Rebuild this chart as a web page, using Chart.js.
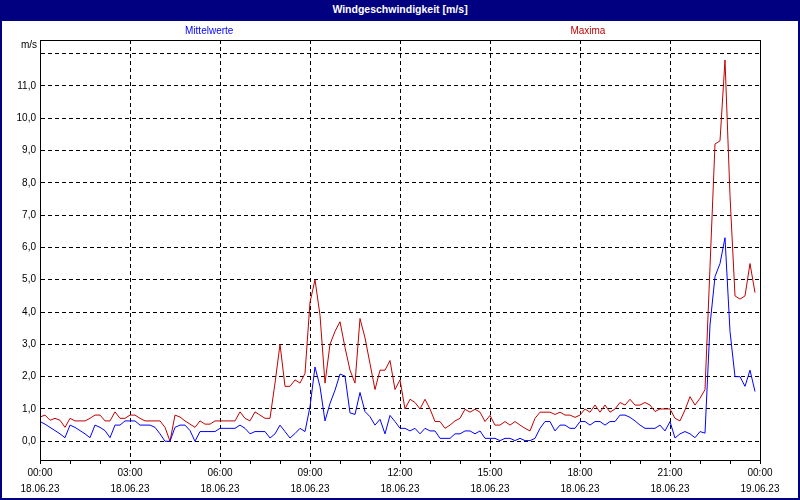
<!DOCTYPE html>
<html>
<head>
<meta charset="utf-8">
<script src="https://cdn.jsdelivr.net/npm/chart.js@4.4.0/dist/chart.umd.min.js"></script>
<style>
  html, body { margin: 0; padding: 0; background: #fff; }
  #frame { width: 800px; height: 500px; box-sizing: border-box; border: 2px solid #000080; border-top: none; position: relative; overflow: hidden; }
  #title { height: 21px; background: #000080; color: #fff; font: bold 10.5px "Liberation Sans", Arial, sans-serif; text-align: center; line-height: 19px; }
  #wrap { position: absolute; left: 0; top: 21px; width: 796px; height: 477px; }
</style>
</head>
<body>
<div id="frame">
  <div id="title">Windgeschwindigkeit [m/s]</div>
  <div id="wrap"><canvas id="chart"></canvas></div>
</div>
<script>
// 10-minute values, 18.06.23 00:00 .. 23:50
const stepMin = 10;

const mittelwerte = [
  0.61, 0.53, 0.43, 0.33, 0.23, 0.11, 0.50, 0.43, 0.33, 0.23, 0.11, 0.50,
  0.43, 0.33, 0.11, 0.50, 0.50, 0.63, 0.63, 0.63, 0.50, 0.50, 0.50, 0.43,
  0.23, 0.00, 0.00, 0.43, 0.50, 0.50, 0.33, 0.00, 0.30, 0.30, 0.30, 0.30,
  0.40, 0.40, 0.40, 0.40, 0.50, 0.40, 0.23, 0.30, 0.30, 0.30, 0.10, 0.23,
  0.50, 0.30, 0.10, 0.24, 0.40, 0.30, 1.07, 2.30, 1.69, 0.63, 1.17, 1.58,
  2.08, 2.02, 0.88, 0.83, 1.51, 0.92, 0.76, 0.50, 0.68, 0.23, 0.80, 0.61,
  0.40, 0.40, 0.32, 0.40, 0.23, 0.40, 0.32, 0.32, 0.09, 0.09, 0.09, 0.23,
  0.23, 0.32, 0.32, 0.23, 0.32, 0.09, 0.09, 0.09, 0.02, 0.09, 0.09, 0.02,
  0.09, 0.02, 0.02, 0.09, 0.40, 0.61, 0.61, 0.32, 0.50, 0.50, 0.40, 0.40,
  0.61, 0.61, 0.50, 0.61, 0.61, 0.50, 0.61, 0.61, 0.81, 0.81, 0.74, 0.63,
  0.50, 0.40, 0.40, 0.40, 0.50, 0.32, 0.61, 0.10, 0.23, 0.30, 0.23, 0.11,
  0.30, 0.25, 3.60, 5.10, 5.50, 6.30, 3.40, 2.00, 2.00, 1.70, 2.20, 1.54
];

const maxima = [
  0.75, 0.81, 0.65, 0.71, 0.65, 0.43, 0.71, 0.63, 0.63, 0.63, 0.71, 0.81,
  0.81, 0.63, 0.63, 0.91, 0.71, 0.71, 0.81, 0.81, 0.71, 0.63, 0.63, 0.63,
  0.63, 0.43, 0.00, 0.81, 0.75, 0.63, 0.53, 0.43, 0.63, 0.53, 0.53, 0.63,
  0.63, 0.63, 0.63, 0.63, 0.91, 0.71, 0.63, 0.91, 0.81, 0.71, 0.71, 1.80,
  3.00, 1.70, 1.70, 1.90, 1.80, 2.10, 4.30, 5.00, 3.90, 1.80, 3.00, 3.40,
  3.70, 2.90, 2.20, 1.80, 3.80, 3.20, 2.40, 1.60, 2.20, 2.20, 2.50, 1.60,
  1.90, 1.00, 1.30, 1.20, 1.00, 1.30, 1.00, 0.61, 0.61, 0.40, 0.50, 0.63,
  0.71, 0.99, 0.90, 0.99, 0.90, 0.61, 0.80, 0.50, 0.50, 0.61, 0.50, 0.61,
  0.50, 0.40, 0.32, 0.71, 0.90, 0.90, 0.90, 0.83, 0.90, 0.81, 0.81, 0.74,
  0.81, 1.00, 0.90, 1.12, 0.90, 1.12, 0.90, 1.00, 1.20, 1.12, 1.30, 1.12,
  1.12, 1.20, 1.12, 0.92, 1.00, 1.00, 1.00, 0.71, 0.63, 0.97, 1.38, 1.12,
  1.33, 1.60, 5.40, 9.20, 9.30, 11.80, 7.60, 4.50, 4.40, 4.50, 5.50, 4.60
];

// axis
const yMin = -0.58, yMax = 12.42;
const yTicks = [0, 1, 2, 3, 4, 5, 6, 7, 8, 9, 10, 11, 12];
const xTicks = [];               // every hour, minutes since 00:00
for (let h = 0; h <= 24; h++) xTicks.push(h * 60);
const dayLabels = ['18.06.23', '19.06.23'];

const blue = '#0000ff';
const red = '#c00000';
const font = '"Liberation Sans", Arial, sans-serif';

function toPoints(arr) {
    return arr.map((v, i) => ({ x: i * stepMin, y: v }));
}

function hhmm(min) {
    const h = Math.floor(min / 60) % 24;
    return String(h).padStart(2, '0') + ':00';
}

// --- frame, legend text and unit label ---
const decor = {
    id: 'decor',
    afterDraw(chart) {
        const { ctx, chartArea: a } = chart;
        ctx.save();
        ctx.strokeStyle = '#000';
        ctx.lineWidth = 1;
        ctx.strokeRect(Math.round(a.left) + 0.5, Math.round(a.top) + 0.5,
            Math.round(a.right - a.left), Math.round(a.bottom - a.top));

        ctx.font = '10px ' + font;
        ctx.textBaseline = 'middle';
        ctx.textAlign = 'center';
        const w = a.right - a.left;
        const ds = chart.data.datasets;
        ctx.fillStyle = ds[0].borderColor;
        ctx.fillText(ds[0].label, a.left + w * 0.235, a.top - 9);
        ctx.fillStyle = ds[1].borderColor;
        ctx.fillText(ds[1].label, a.left + w * 0.761, a.top - 9);

        ctx.fillStyle = '#000';
        ctx.textAlign = 'right';
        ctx.fillText('m/s', a.left - 3, a.top + 5);
        ctx.restore();
    }
};

new Chart(document.getElementById('chart'), {
    type: 'line',
    data: {
        datasets: [
            { label: 'Mittelwerte', data: toPoints(mittelwerte), borderColor: blue, borderWidth: 1, pointRadius: 0, tension: 0 },
            { label: 'Maxima', data: toPoints(maxima), borderColor: red, borderWidth: 1, pointRadius: 0, tension: 0 }
        ]
    },
    options: {
        responsive: true,
        maintainAspectRatio: false,
        animation: false,
        layout: { padding: { top: 19, right: 38, left: 0, bottom: 0 } },
        plugins: { legend: { display: false }, tooltip: { enabled: false } },
        scales: {
            x: {
                type: 'linear',
                min: 0,
                max: 1440,
                afterBuildTicks: axis => { axis.ticks = xTicks.map(v => ({ value: v })); },
                afterFit: s => { s.height = 38; },
                ticks: {
                    autoSkip: false,
                    maxRotation: 0,
                    padding: 1,
                    color: '#000',
                    font: { family: font, size: 10, lineHeight: 1.6 },
                    callback: v => v % 180 === 0 ? [hhmm(v), dayLabels[v >= 1440 ? 1 : 0]] : ''
                },
                grid: {
                    color: c => (c.tick && c.tick.value % 180 === 0) ? '#000' : 'rgba(0,0,0,0)',
                    tickColor: '#000',
                    tickLength: 4,
                    lineWidth: 1
                },
                border: { display: true, color: '#000', dash: [4, 3] }
            },
            y: {
                min: yMin,
                max: yMax,
                afterBuildTicks: axis => { axis.ticks = yTicks.map(v => ({ value: v })); },
                afterFit: s => { s.width = 38; },
                ticks: {
                    padding: 4,
                    color: '#000',
                    font: { family: font, size: 10 },
                    callback: v => v === 12 ? '' : v.toFixed(1).replace('.', ',')
                },
                grid: { color: '#000', drawTicks: false, lineWidth: 1 },
                border: { display: true, color: '#000', dash: [4, 3] }
            }
        }
    },
    plugins: [decor]
});
</script>
</body>
</html>
